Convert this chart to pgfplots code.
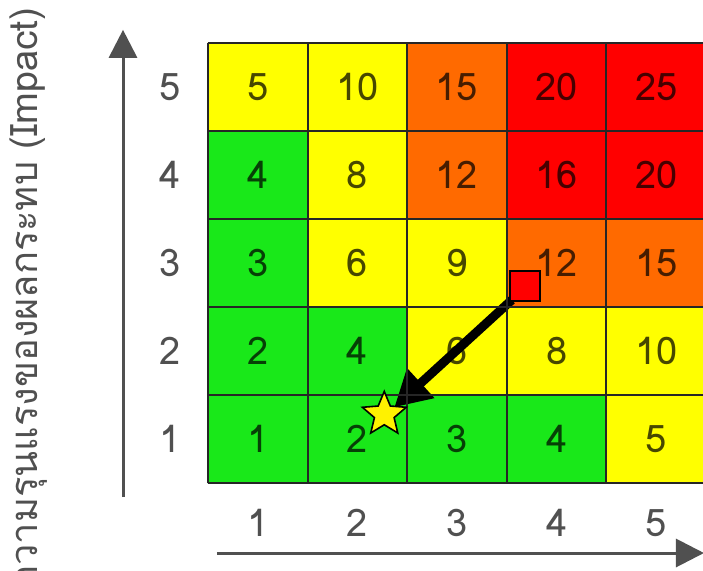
\documentclass[border=0pt]{standalone}
\usepackage{fontspec}
\setmainfont[Script=Thai]{Loma}
\usepackage{pgfplots}
\pgfplotsset{compat=1.18}
\usepackage{pgfplotstable}
\usetikzlibrary{arrows.meta}

\definecolor{axgray}{RGB}{80,80,80}

% filled five-pointed star
\pgfdeclareplotmark{fstar}{%
  \pgfpathmoveto{\pgfpointpolar{90}{\pgfplotmarksize}}%
  \pgfpathlineto{\pgfpointpolar{126}{0.45\pgfplotmarksize}}%
  \pgfpathlineto{\pgfpointpolar{162}{\pgfplotmarksize}}%
  \pgfpathlineto{\pgfpointpolar{198}{0.45\pgfplotmarksize}}%
  \pgfpathlineto{\pgfpointpolar{234}{\pgfplotmarksize}}%
  \pgfpathlineto{\pgfpointpolar{270}{0.45\pgfplotmarksize}}%
  \pgfpathlineto{\pgfpointpolar{306}{\pgfplotmarksize}}%
  \pgfpathlineto{\pgfpointpolar{342}{0.45\pgfplotmarksize}}%
  \pgfpathlineto{\pgfpointpolar{18}{\pgfplotmarksize}}%
  \pgfpathlineto{\pgfpointpolar{54}{0.45\pgfplotmarksize}}%
  \pgfpathclose
  \pgfusepathqfillstroke}

% x = likelihood, y = impact, c = colour class, s = score
\pgfplotstableread{
x y c s
1 1 0 1
2 1 0 2
3 1 0 3
4 1 0 4
5 1 1 5
1 2 0 2
2 2 0 4
3 2 1 6
4 2 1 8
5 2 1 10
1 3 0 3
2 3 1 6
3 3 1 9
4 3 2 12
5 3 2 15
1 4 0 4
2 4 1 8
3 4 2 12
4 4 3 16
5 4 3 20
1 5 1 5
2 5 1 10
3 5 2 15
4 5 3 20
5 5 3 25
}\cells

\begin{document}
\begin{tikzpicture}
\begin{axis}[
  scale only axis, width=249pt, height=220pt,
  xmin=0.5, xmax=5.5, ymin=0.5, ymax=5.5,
  axis on top, clip=false,
  axis line style={draw=none},
  major tick length=0pt, minor tick length=0pt,
  xtick={1,...,5}, ytick={1,...,5},
  minor xtick={0.5,1.5,...,5.5}, minor ytick={0.5,1.5,...,5.5},
  xminorgrids, yminorgrids,
  minor grid style={draw=black!85, line width=1pt},
  ticklabel style={font=\fontsize{19}{19}\selectfont, text=axgray},
  xticklabel style={anchor=center, yshift=-20pt},
  yticklabel style={anchor=center, xshift=-19pt},
  /pgf/number format/assume math mode=true,
  colormap={risk}{rgb255=(25,232,25) rgb255=(255,255,0) rgb255=(255,106,0) rgb255=(255,0,0)},
]
\addplot[matrix plot*, mesh/cols=5, point meta=explicit, colormap access=direct]
  table[x=x, y=y, meta=c] {\cells};
\addplot[draw=none, mark=none, nodes near coords, point meta=explicit symbolic,
  every node near coord/.append style={anchor=center, font=\fontsize{19}{19}\selectfont, text=black, text opacity=0.72}]
  table[x=x, y=y, meta=s] {\cells};
\addplot[only marks, mark=fstar, mark size=11.5pt, mark options={fill=yellow, draw=black, line width=0.8pt}]
  coordinates {(2.27,1.28)};
\addplot[black, line width=4.5pt, -{Triangle[length=18pt, width=19pt]}]
  coordinates {(3.55,2.58) (2.37,1.36)};
\addplot[only marks, mark=square*, mark size=7.5pt, mark options={fill=red, draw=black, line width=0.8pt}]
  coordinates {(3.68,2.74)};

\draw[axgray, line width=1.5pt, -{Triangle[length=14pt, width=14pt]}]
  (axis cs:-0.353,0.34) -- (axis cs:-0.353,5.65);
\draw[axgray, line width=1.5pt, -{Triangle[length=14pt, width=14pt]}]
  (axis cs:0.59,-0.295) -- (axis cs:5.48,-0.295);
\node[rotate=90, anchor=east, inner sep=0pt, font=\fontsize{19}{19}\selectfont, text=axgray]
  at (axis cs:-1.30,5.90) {ความรุนแรงของผลกระทบ (Impact)};

\coordinate (bbl) at (axis cs:-1.588,-0.489);
\coordinate (btr) at (axis cs:5.47,5.989);
\end{axis}
\pgfresetboundingbox
\useasboundingbox (bbl) rectangle (btr);
\end{tikzpicture}
\end{document}
